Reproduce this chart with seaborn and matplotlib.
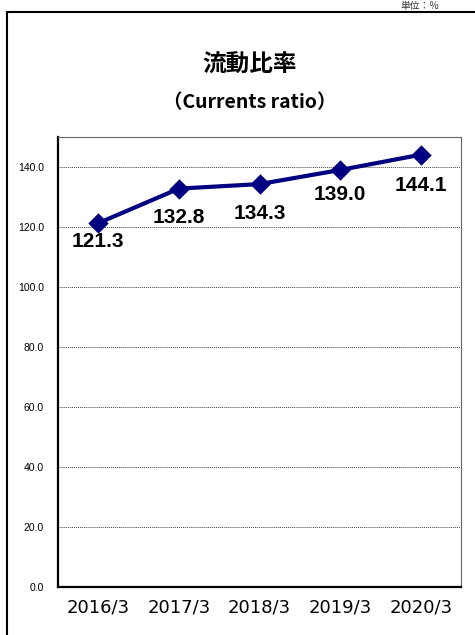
import numpy as np
import pandas as pd
import matplotlib
matplotlib.use("Agg")
import matplotlib.pyplot as plt
from matplotlib.patches import Rectangle
import seaborn as sns

# dati del grafico
periodi = ["2016/3", "2017/3", "2018/3", "2019/3", "2020/3"]
valori = [121.3, 132.8, 134.3, 139.0, 144.1]
etichette = ["121.3", "132.8", "134.3", "139.0", "144.1"]
yticks = [0, 20, 40, 60, 80, 100, 120, 140]

df = pd.DataFrame({"periodo": periodi, "valore": valori})

sns.set_style("white")
plt.rcParams["font.family"] = ["Noto Sans CJK JP", "DejaVu Sans"]
plt.rcParams["text.color"] = "black"
plt.rcParams["xtick.color"] = "black"
plt.rcParams["ytick.color"] = "black"

fig = plt.figure(figsize=(4.75, 6.35), dpi=100)
ax = fig.add_axes([58 / 475, 1 - 587 / 635, 403 / 475, 450 / 635])

sns.pointplot(data=df, x="periodo", y="valore", color="#000080",
              markers="D", markersize=8.5, linewidth=3, ax=ax)

ax.set_xlim(-0.5, len(periodi) - 0.5)
ax.set_ylim(0, 150)
ax.set_yticks(yticks)
ax.set_yticklabels([f"{v:.1f}" for v in yticks], fontsize=7.5,
                   family=["Liberation Sans", "DejaVu Sans"])
ax.set_xticks(range(len(periodi)))
ax.set_xticklabels(periodi, fontsize=13, family=["DejaVu Sans"])
ax.tick_params(axis="both", length=0)
ax.tick_params(axis="x", pad=8)
ax.tick_params(axis="y", pad=10)
ax.set_xlabel("")
ax.set_ylabel("")

# griglia tratteggiata
for v in yticks[1:]:
    ax.axhline(v, color="#444444", linestyle=(0, (1, 1)), linewidth=0.7, zorder=0)

# piccolo tick in basso tra 2018 e 2019
ax.set_xticks([2.5], minor=True)
ax.tick_params(axis="x", which="minor", direction="in", length=4, width=0.8,
               color="#555555")

for s in ["left", "bottom"]:
    ax.spines[s].set_color("black")
    ax.spines[s].set_linewidth(1.6)
for s in ["top", "right"]:
    ax.spines[s].set_color("#666666")
    ax.spines[s].set_linewidth(0.8)
    ax.spines[s].set_visible(True)

# etichette dei valori
offset = [-13, -21, -21, -18, -22]
for i, (v, t) in enumerate(zip(valori, etichette)):
    ax.annotate(t, (i, v), xytext=(0, offset[i]), textcoords="offset points",
                ha="center", va="center", fontsize=15, fontweight="bold",
                family=["Liberation Sans", "DejaVu Sans"])

# titoli
fig.text(250 / 475, 1 - 65 / 635, "流動比率", ha="center", va="center",
         fontsize=17, fontweight="bold")
fig.text(250 / 475, 1 - 103 / 635, "（Currents ratio）", ha="center", va="center",
         fontsize=14, fontweight="bold")

# unita' in alto a destra
fig.text(420 / 475, 1 - 1 / 635, "単位：％", ha="center", va="top",
         fontsize=7, color="#333333")

# cornice esterna
fig.patches.append(Rectangle((7 / 475, -0.1), 1.2, 1.1 - 12 / 635,
                             transform=fig.transFigure, fill=False,
                             edgecolor="black", linewidth=1.5))

fig.savefig("out.png", dpi=100)
